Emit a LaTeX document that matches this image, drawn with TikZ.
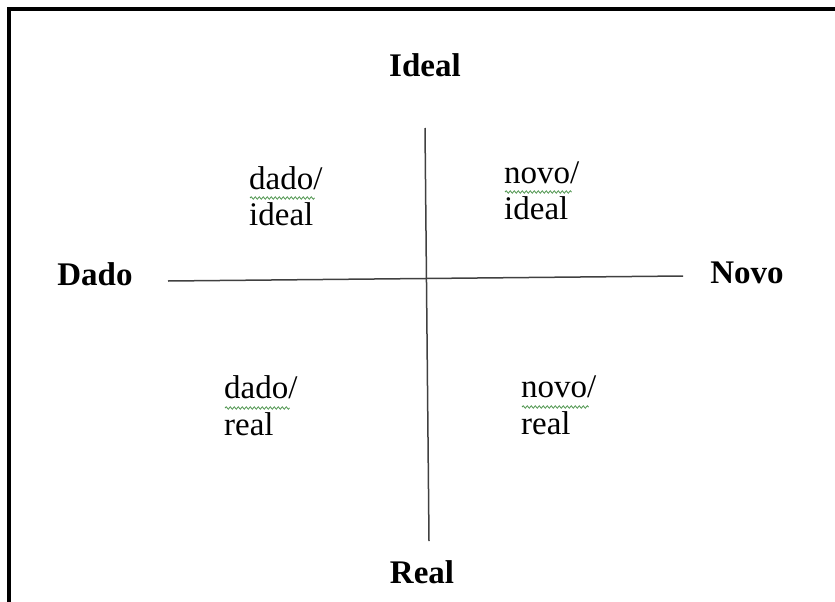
\documentclass[tikz,border=0pt]{standalone}
\usepackage{fontspec}
\setmainfont{Liberation Serif}
\usetikzlibrary{positioning, calc, decorations.pathmorphing}
\definecolor{wavegreen}{RGB}{80,150,80}

\begin{document}
\begin{tikzpicture}[x=1pt, y=-1pt, thin]

\tikzstyle{pole} = [font=\fontsize{33}{36}\selectfont\bfseries, anchor=base, inner sep=0pt]
\tikzstyle{quad} = [font=\fontsize{33}{36}\selectfont, anchor=base west, inner sep=0pt]
\tikzstyle{axis} = [draw=black!75, line width=1.5pt]
\tikzstyle{wavy} = [draw=wavegreen, line width=0.8pt, decorate, decoration={snake, amplitude=1.2pt, segment length=4pt}]

\useasboundingbox (0,0) rectangle (835,602);

% Frame
\draw[line width=4pt] (9,602) -- (9,9) -- (835,9);

% Poles
\node[pole] (ideal) at (425,77) {Ideal};
\node[pole] (dado) at (95,285) {Dado};
\node[pole] (novo) at (747,283) {Novo};
\node[pole] (real) at (422,583) {Real};

% Axes
\coordinate (axtop) at (425,128);
\coordinate (axbot) at (429,541);
\coordinate (axleft) at (168,281);
\coordinate (axright) at (683,276);
\draw[axis] (axleft) -- (axright);
\draw[axis] (axtop) -- (axbot);

% Quadrants
\node[quad] (dI1) at (249,189) {dado/};
\node[quad, below=36pt of dI1.base west, anchor=base west] (dI2) {ideal};
\node[quad] (nI1) at (504,183) {novo/};
\node[quad, below=36pt of nI1.base west, anchor=base west] (nI2) {ideal};
\node[quad] (dR1) at (224,398) {dado/};
\node[quad, below=37pt of dR1.base west, anchor=base west] (dR2) {real};
\node[quad] (nR1) at (521,397) {novo/};
\node[quad, below=37pt of nR1.base west, anchor=base west] (nR2) {real};

% Spelling marks
\draw[wavy] ($(dI1.base west)+(1,9)$) -- ($(dI1.base east)+(-8,9)$);
\draw[wavy] ($(nI1.base west)+(1,9)$) -- ($(nI1.base east)+(-8,9)$);
\draw[wavy] ($(dR1.base west)+(1,10)$) -- ($(dR1.base east)+(-8,10)$);
\draw[wavy] ($(nR1.base west)+(1,10)$) -- ($(nR1.base east)+(-8,10)$);

\end{tikzpicture}
\end{document}
